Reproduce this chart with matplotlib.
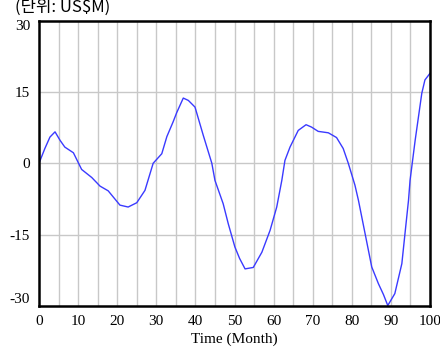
import numpy as np
import matplotlib.pyplot as plt

# values
months = [0, 1.5, 2.8, 4.1, 5.4, 6.6, 8.8, 10.9, 13.5, 15.6, 17.7, 20.7, 22.8,
          25, 27.1, 29.2, 31.4, 32.7, 34.3, 35.2, 36.9, 38.2, 39.9, 42.0, 44.2,
          45.0, 47.1, 48.4, 50.1, 51.3, 52.7, 54.8, 57.0, 59.1, 60.8, 62.1,
          62.9, 64.2, 66.3, 68.3, 69.7, 71.4, 74, 76.1, 77.8, 79.1, 80.8, 81.7,
          83.4, 85.1, 86.8, 88.1, 89.2, 91.0, 92.8, 93.6, 94.5, 94.9, 96.2,
          97.9, 98.7, 100]
values = [0, 3.1, 5.5, 6.6, 4.8, 3.4, 2.2, -1.3, -3.0, -4.8, -5.8, -8.8, -9.2,
          -8.3, -5.7, 0, 2.0, 5.6, 8.7, 10.6, 13.7, 13.2, 11.8, 5.9, 0,
          -3.6, -8.5, -12.7, -17.6, -20.0, -22.2, -21.9, -18.7, -14.1, -9.2, -3.6,
          0.6, 3.4, 6.9, 8.1, 7.6, 6.7, 6.4, 5.4, 3.1, 0, -4.6, -7.8,
          -14.8, -21.8, -25.3, -27.6, -29.9, -27.4, -21.1, -14.8, -7.8, -3.6, 4.8,
          14.7, 17.5, 18.9]
x_ticks = list(range(0, 101, 10))
y_ticks = [-30, -15, 0, 15, 30]

fig = plt.figure(figsize=(4.4, 3.54), dpi=100)
ax = fig.add_axes([39 / 440, 1 - 306 / 354, 391 / 440, 285.5 / 354])

# grid
for gx in range(5, 100, 5):
    ax.axvline(gx, color="#c8c8c8", lw=1, zorder=0)
for gy in [-15, 0, 15]:
    ax.axhline(gy, color="#c8c8c8", lw=1, zorder=0)

ax.plot(months, values, color="#3a3aff", lw=1.0)

ax.set_xlim(0, 100)
ax.set_ylim(-30, 30)
ax.set_xticks(x_ticks)
ax.set_yticks(y_ticks)
ax.set_yticklabels([str(v) for v in y_ticks])
ax.tick_params(length=0, pad=6.5, labelsize=11)
for lab in ax.get_xticklabels() + ax.get_yticklabels():
    lab.set_family("Liberation Serif")
ylabs = ax.get_yticklabels()
ylabs[0].set_va("bottom")
ylabs[-1].set_va("top")

for s in ax.spines.values():
    s.set_linewidth(1.8)
    s.set_color("black")

ax.set_xlabel("Time (Month)", family="Liberation Serif", fontsize=11, labelpad=3)

fig.text(15 / 440, 1 - 12 / 354, "(단위: US$M)", family=["Noto Sans CJK KR", "DejaVu Sans"],
         fontsize=12, va="baseline", ha="left")

fig.savefig("out.png", dpi=100)
